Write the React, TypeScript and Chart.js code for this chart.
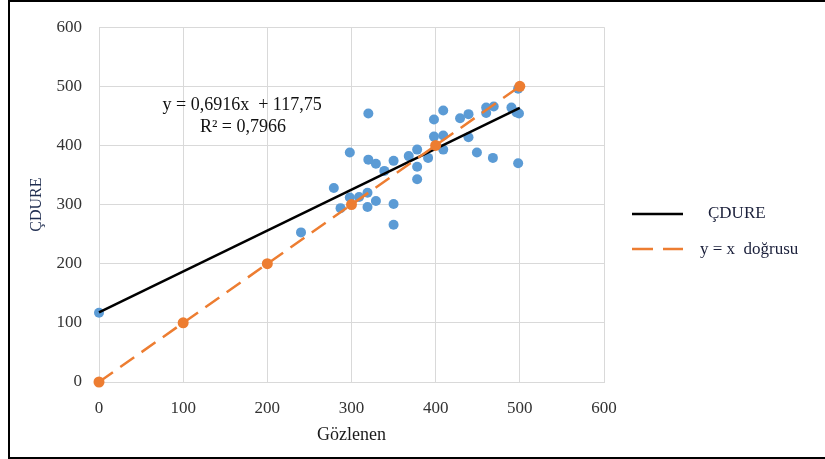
import React, { useEffect, useRef } from "react";
import { Chart, registerables } from "chart.js";

Chart.register(...registerables);

const observed = [0, 240, 279, 287, 298, 298, 309, 319, 319, 320, 320, 329, 329, 339, 350, 350, 350, 368, 378, 378, 378, 391, 398, 398, 409, 409, 409, 429, 439, 439, 449, 460, 460, 468, 469, 490, 496, 499, 498, 498];
const predicted = [117, 253, 328, 294, 388, 312, 313, 296, 320, 454, 376, 369, 306, 357, 374, 301, 266, 382, 393, 364, 343, 379, 444, 415, 459, 417, 393, 446, 453, 414, 388, 464, 455, 379, 466, 464, 456, 454, 496, 370];

// Trendline coefficients shown on the chart
const slope = 0.6916;
const intercept = 117.75;
const trendXs = [0, 500];

// y = x reference line points
const identityXs = [0, 100, 200, 300, 400, 500];

const axisTicks = [0, 100, 200, 300, 400, 500, 600];
const equationLines = ["y = 0,6916x  + 117,75", "R² = 0,7966"];
const legendLabels = ["ÇDURE", "y = x  doğrusu"];

const SERIF = "'Liberation Serif', 'Times New Roman', serif";
const BLUE = "#5B9BD5";
const ORANGE = "#ED7D31";

export default function App() {
  const canvasRef = useRef<HTMLCanvasElement | null>(null);

  useEffect(() => {
    const canvas = canvasRef.current;
    if (!canvas) return;

    const annotationPlugin = {
      id: "annot",
      afterDraw(chart: any) {
        const ctx = chart.ctx;
        const xs = chart.scales.x;
        const ys = chart.scales.y;
        ctx.save();
        // equation
        ctx.fillStyle = "#111111";
        ctx.font = `18px ${SERIF}`;
        ctx.textAlign = "center";
        ctx.textBaseline = "middle";
        ctx.fillText(equationLines[0], xs.getPixelForValue(170), ys.getPixelForValue(468));
        ctx.fillText(equationLines[1], xs.getPixelForValue(171), ys.getPixelForValue(431));

        // legend
        ctx.lineWidth = 2.5;
        ctx.strokeStyle = "#000000";
        ctx.setLineDash([]);
        ctx.beginPath();
        ctx.moveTo(632, 214);
        ctx.lineTo(683, 214);
        ctx.stroke();
        ctx.strokeStyle = ORANGE;
        ctx.setLineDash([21, 10]);
        ctx.beginPath();
        ctx.moveTo(632, 249);
        ctx.lineTo(683, 249);
        ctx.stroke();
        ctx.setLineDash([]);
        ctx.fillStyle = "#1a1f3a";
        ctx.font = `17px ${SERIF}`;
        ctx.textAlign = "left";
        ctx.fillText(legendLabels[0], 708, 214);
        ctx.fillText(legendLabels[1], 700, 250);
        ctx.restore();
      },
    };

    const scatterPts = observed.map((x, i) => ({ x, y: predicted[i] }));
    const trendPts = trendXs.map((x) => ({ x, y: slope * x + intercept }));
    const identityPts = identityXs.map((x) => ({ x, y: x }));

    const chart = new Chart(canvas, {
      type: "scatter",
      data: {
        datasets: [
          {
            label: legendLabels[1],
            data: identityPts,
            showLine: true,
            borderColor: ORANGE,
            backgroundColor: ORANGE,
            borderWidth: 2.5,
            borderDash: [17, 9],
            pointRadius: 5.5,
            pointBorderWidth: 0,
            clip: false,
            order: 0,
          },
          {
            label: legendLabels[0],
            data: trendPts,
            showLine: true,
            borderColor: "#000000",
            backgroundColor: "#000000",
            borderWidth: 2.5,
            pointRadius: 0,
            clip: false,
            order: 1,
          },
          {
            label: "data",
            data: scatterPts,
            backgroundColor: BLUE,
            borderColor: BLUE,
            pointRadius: 5,
            pointBorderWidth: 0,
            clip: false,
            order: 2,
          },
        ],
      },
      options: {
        responsive: false,
        animation: false,
        devicePixelRatio: 1,
        layout: { padding: { left: 0, top: 17, right: 221, bottom: 0 } },
        plugins: {
          legend: { display: false },
          tooltip: { enabled: false },
        },
        scales: {
          x: {
            type: "linear",
            min: 0,
            max: 600,
            afterBuildTicks(scale: any) {
              scale.ticks = axisTicks.map((v) => ({ value: v }));
            },
            afterFit(scale: any) {
              scale.height = 77;
            },
            grid: { color: "#d9d9d9", lineWidth: 1, drawTicks: false },
            border: { color: "#d9d9d9" },
            ticks: {
              padding: 16,
              color: "#333333",
              font: { family: SERIF, size: 17 },
              maxRotation: 0,
            },
            title: {
              display: true,
              text: "Gözlenen",
              color: "#1a1a1a",
              font: { family: SERIF, size: 18 },
              padding: { top: 0, bottom: 13 },
            },
          },
          y: {
            type: "linear",
            min: 0,
            max: 600,
            afterBuildTicks(scale: any) {
              scale.ticks = axisTicks.map((v) => ({ value: v }));
            },
            afterFit(scale: any) {
              scale.width = 99;
            },
            grid: { color: "#d9d9d9", lineWidth: 1, drawTicks: false },
            border: { color: "#d9d9d9" },
            ticks: {
              padding: 17,
              color: "#333333",
              font: { family: SERIF, size: 17 },
            },
            title: {
              display: true,
              text: "ÇDURE",
              color: "#1F2D50",
              font: { family: SERIF, size: 16 },
              padding: { top: 27, bottom: 0 },
            },
          },
        },
      },
      plugins: [annotationPlugin],
    } as any);

    return () => chart.destroy();
  }, []);

  return (
    <div
      style={{
        position: "fixed",
        left: 0,
        top: 0,
        width: 825,
        height: 459,
        overflow: "hidden",
        background: "#ffffff",
      }}
    >
      <canvas
        ref={canvasRef}
        width={825}
        height={459}
        style={{ position: "absolute", left: 0, top: 0, display: "block" }}
      />
      <div
        style={{
          position: "absolute",
          left: 8,
          top: 0,
          width: 840,
          height: 459,
          boxSizing: "border-box",
          border: "2px solid #000",
          borderRight: "none",
          pointerEvents: "none",
        }}
      />
    </div>
  );
}
